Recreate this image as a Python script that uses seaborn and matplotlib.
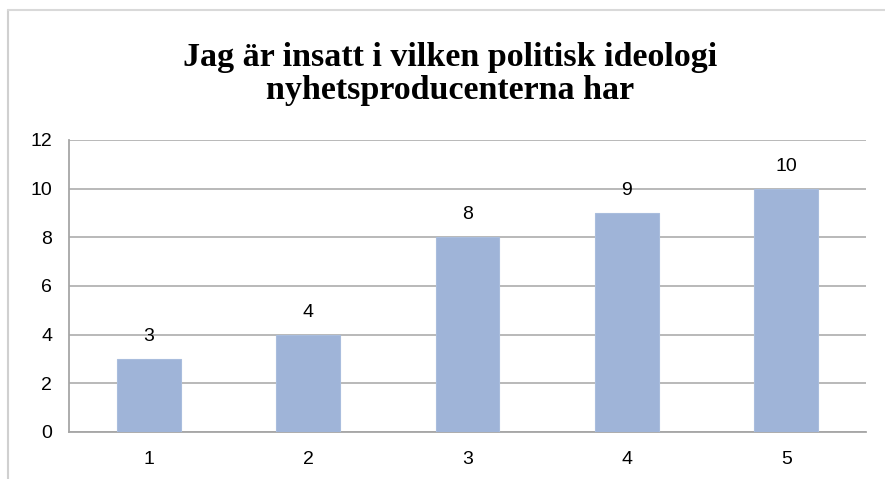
import numpy as np
import pandas as pd
import matplotlib
matplotlib.use('Agg')
import matplotlib.pyplot as plt
import seaborn as sns

categories = ['1', '2', '3', '4', '5']
counts = [3, 4, 8, 9, 10]
title = 'Jag är insatt i vilken politisk ideologi\nnyhetsproducenterna har'

df = pd.DataFrame({'svar': categories, 'antal': counts})

sns.set_style('white')
plt.rcParams['font.family'] = ['Liberation Sans', 'DejaVu Sans']
plt.rcParams['text.color'] = 'black'

fig = plt.figure(figsize=(8.85, 4.79), dpi=100)
ax = fig.add_axes([69/885, 1 - 432/479, 797/885, 292/479])

sns.barplot(data=df, x='svar', y='antal', color='#9fb4d8', width=0.40,
            saturation=1, edgecolor='#a9bddd', linewidth=0.8, ax=ax, zorder=3)

ax.set_ylim(0, 12)
ax.set_yticks(range(0, 13, 2))
ax.set_xlim(-0.5, 4.5)
ax.yaxis.grid(True, color='#b3b3b3', linewidth=1.3, zorder=0)
ax.set_axisbelow(True)
for s in ['top', 'right']:
    ax.spines[s].set_visible(False)
ax.spines['left'].set_color('#a6a6a6')
ax.spines['bottom'].set_color('#a6a6a6')
ax.spines['left'].set_linewidth(1.3)
ax.spines['bottom'].set_linewidth(1.3)
ax.tick_params(axis='both', length=0, labelsize=14, colors='black', pad=12)
ax.tick_params(axis='x', pad=14)
ax.set_xlabel('')
ax.set_ylabel('')

for i, v in enumerate(counts):
    ax.annotate(str(v), (i, v), xytext=(0, 10), textcoords='offset points',
                ha='center', va='bottom', fontsize=14, color='black')

fig.text(450/885, 1 - 74/479, title, ha='center', va='center', fontsize=24.5,
         fontweight='bold', family=['Liberation Serif', 'DejaVu Serif'],
         linespacing=1.05, color='black')

# chart frame (left and top edges visible in the crop)
fig.add_artist(plt.Line2D([8/885, 8/885], [0, 1 - 10/479], color='#d0d0d0', lw=1.5,
                          transform=fig.transFigure))
fig.add_artist(plt.Line2D([8/885, 1], [1 - 10/479, 1 - 10/479], color='#d9d9d9', lw=1.5,
                          transform=fig.transFigure))

fig.savefig('out.png', dpi=100)
